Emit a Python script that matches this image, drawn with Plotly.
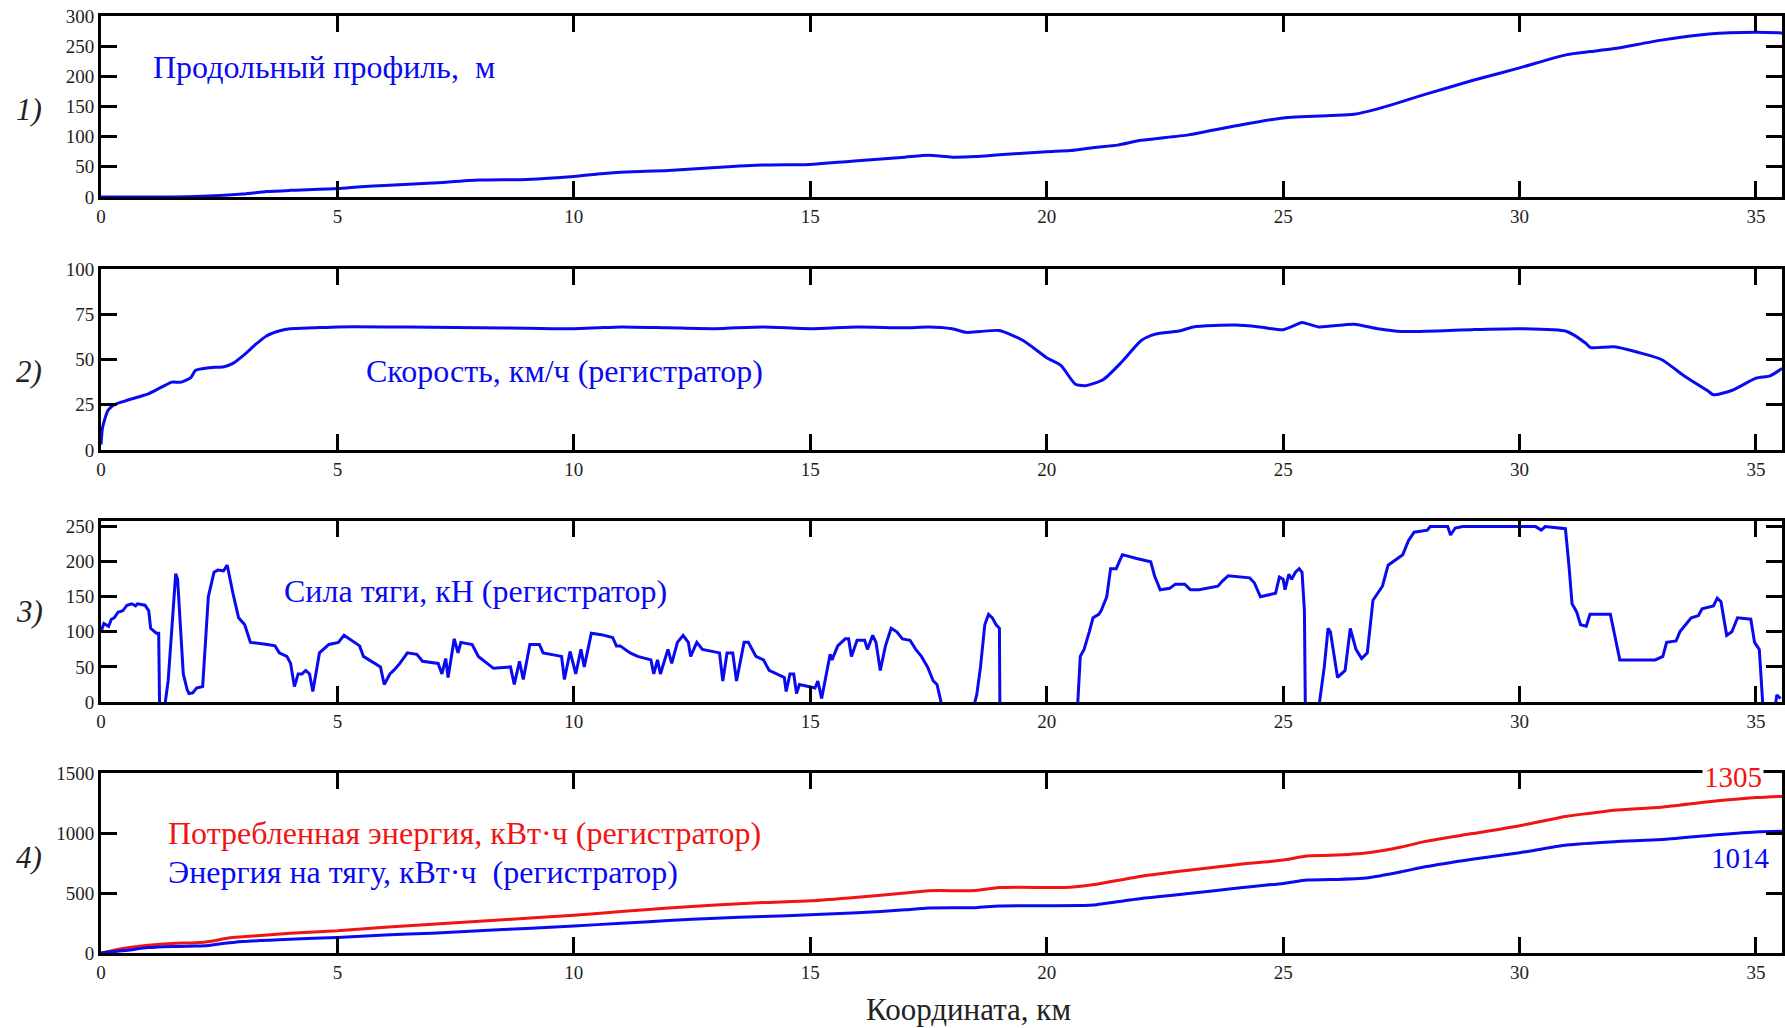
import plotly.graph_objects as go

# ---------------- data ----------------
km_ticks = [0, 5, 10, 15, 20, 25, 30, 35]

profile_km = [0, 1, 2, 3, 3.5, 4, 5, 5.5, 6, 7, 8, 9, 10, 10.5, 11, 12, 13, 14, 15, 15.5, 16, 17, 17.5, 18,
              18.5, 19, 20, 20.5, 21, 21.5, 22, 23, 24, 25, 26, 26.5, 27, 28, 29, 30, 31, 31.5, 32, 33, 34, 35, 35.55]
profile_m = [0, 0, 1, 5, 9, 11, 14, 17, 19, 23, 28, 29, 34, 38, 41, 44, 49, 53, 54, 57, 60, 66, 69, 66,
             67, 70, 75, 77, 82, 86, 94, 103, 118, 131, 135, 137, 146, 170, 193, 214, 236, 241, 246, 260, 270, 273, 272]

speed_km = [0, 0.03, 0.08, 0.15, 0.28, 0.5, 0.75, 1.0, 1.3, 1.5, 1.7, 1.9, 2.0, 2.3, 2.6, 2.8, 3.0, 3.3, 3.5, 3.8,
            4.0, 4.5, 5, 6, 7, 8, 9, 10, 10.5, 11, 12, 13, 14, 15, 16, 17, 17.5, 18, 18.3, 18.6, 19, 19.5, 20,
            20.3, 20.6, 20.8, 21.2, 21.6, 22, 22.3, 22.8, 23.1, 24, 24.5, 25, 25.3, 25.4, 25.75, 26.5, 27, 27.5,
            28.5, 29, 30, 31, 31.4, 31.5, 32, 32.5, 33, 33.5, 34, 34.1, 34.5, 35, 35.3, 35.55]
speed_kmh = [3, 12, 17, 22, 25, 27, 29, 31, 35, 37.5, 37.5, 40, 44, 45.5, 46, 48, 52, 59, 63, 66,
             67, 67.5, 68, 68, 67.8, 67.5, 67.3, 67, 67.5, 68, 67.5, 67, 68, 67, 68, 67.5, 68, 67, 65, 65.5, 66, 60.5, 51,
             46.7, 36.5, 35.5, 39, 49, 60.5, 64, 65.7, 68, 69, 68, 66.5, 69.5, 70.5, 68, 69.5, 67, 65.5,
             66, 66.5, 67, 65.5, 59, 56.6, 57, 54, 50, 40.6, 32.3, 30.5, 33, 39.7, 41, 45]

force_points = [
    (0, 100), (0.06, 112), (0.16, 108), (0.22, 118), (0.28, 120), (0.36, 128), (0.46, 130), (0.55, 138),
    (0.65, 140), (0.73, 137), (0.77, 140), (0.93, 138), (1.01, 130), (1.05, 105), (1.17, 98), (1.22, 98),
    (1.24, -10), (1.34, -10), (1.42, 30), (1.54, 150), (1.58, 183), (1.62, 175), (1.70, 80), (1.74, 40),
    (1.82, 18), (1.86, 12), (1.94, 13), (2.02, 20), (2.15, 22), (2.27, 150), (2.39, 185), (2.47, 188),
    (2.59, 187), (2.67, 195), (2.79, 155), (2.91, 120), (3.04, 110), (3.16, 85), (3.52, 82), (3.68, 80),
    (3.77, 70), (3.93, 65), (4.01, 55), (4.09, 22), (4.17, 40), (4.25, 40), (4.33, 45), (4.41, 40),
    (4.48, 15), (4.62, 70), (4.82, 82), (5.02, 85), (5.14, 95), (5.3, 88), (5.47, 80), (5.55, 65),
    (5.71, 58), (5.91, 50), (5.99, 25), (6.11, 40), (6.19, 45), (6.32, 55), (6.48, 70), (6.68, 68),
    (6.80, 58), (7.13, 55), (7.21, 40), (7.29, 62), (7.34, 35), (7.47, 90), (7.55, 70), (7.61, 85),
    (7.85, 82), (7.98, 65), (8.30, 48), (8.66, 50), (8.74, 25), (8.85, 58), (8.93, 32), (9.07, 82),
    (9.27, 82), (9.35, 70), (9.74, 65), (9.80, 32), (9.92, 72), (10.04, 40), (10.15, 75), (10.22, 50),
    (10.37, 98), (10.58, 96), (10.82, 92), (10.9, 80), (10.98, 80), (11.19, 70), (11.35, 65), (11.63, 60),
    (11.69, 40), (11.77, 60), (11.83, 40), (11.99, 75), (12.07, 55), (12.19, 85), (12.31, 95), (12.42, 85),
    (12.47, 65), (12.6, 85), (12.72, 75), (13.08, 70), (13.15, 30), (13.24, 70), (13.36, 70), (13.44, 30),
    (13.6, 85), (13.69, 85), (13.85, 65), (14.01, 60), (14.13, 45), (14.45, 35), (14.49, 15), (14.57, 40),
    (14.65, 40), (14.71, 12), (14.77, 25), (14.97, 22), (15.1, 20), (15.16, 30), (15.24, 5), (15.34, 40),
    (15.42, 68), (15.46, 60), (15.58, 80), (15.74, 90), (15.81, 90), (15.87, 65), (15.99, 88), (16.15, 88),
    (16.21, 75), (16.32, 95), (16.39, 85), (16.48, 45), (16.59, 80), (16.71, 105), (16.83, 100), (16.95, 90),
    (17.11, 88), (17.23, 75), (17.35, 65), (17.48, 50), (17.6, 30), (17.68, 25), (17.8, -10), (18.44, -10),
    (18.52, 10), (18.6, 50), (18.69, 110), (18.77, 125), (18.85, 120), (18.93, 110), (19.0, 105), (19.01, -10),
    (20.65, -10), (20.71, 65), (20.79, 75), (20.9, 100), (20.98, 120), (21.1, 125), (21.15, 130), (21.27, 150),
    (21.35, 190), (21.47, 190), (21.6, 210), (21.88, 205), (22.2, 200), (22.28, 180), (22.4, 160), (22.6, 162),
    (22.72, 168), (22.92, 168), (23.04, 160), (23.22, 160), (23.62, 165), (23.71, 172), (23.84, 180),
    (24.29, 177), (24.39, 170), (24.52, 150), (24.84, 155), (24.92, 178), (25.0, 175), (25.04, 160),
    (25.12, 182), (25.18, 175), (25.26, 185), (25.34, 190), (25.4, 185), (25.45, 130), (25.47, -10), (25.75, -10),
    (25.87, 50), (25.95, 105), (26.0, 100), (26.15, 35), (26.31, 45), (26.42, 105), (26.54, 75), (26.66, 62),
    (26.78, 70), (26.9, 145), (27.1, 165), (27.22, 195), (27.33, 200), (27.53, 210), (27.65, 230),
    (27.77, 242), (28.05, 245), (28.11, 250), (28.48, 250), (28.54, 238), (28.64, 248), (28.8, 250),
    (30.34, 250), (30.46, 245), (30.54, 250), (30.97, 247), (31.05, 190), (31.11, 140), (31.21, 128),
    (31.29, 110), (31.41, 108), (31.49, 125), (31.92, 125), (32.0, 100), (32.12, 60), (32.87, 60),
    (33.03, 65), (33.11, 85), (33.31, 87), (33.39, 100), (33.51, 110), (33.63, 120), (33.78, 123),
    (33.86, 133), (34.1, 137), (34.18, 148), (34.26, 143), (34.38, 95), (34.49, 100), (34.61, 120),
    (34.89, 118), (34.97, 85), (35.07, 75), (35.15, -10), (35.4, -10), (35.44, 10), (35.52, 5),
]
force_km = [p[0] for p in force_points]
force_kn = [p[1] for p in force_points]

consumed_km = [0, 0.5, 1, 1.5, 2, 2.3, 2.7, 3, 4, 5, 6, 7, 8, 9, 10, 11, 12, 13, 14, 15, 16, 17, 17.5, 18.5,
               19, 20.5, 21, 22, 23, 24, 25, 25.5, 26, 26.8, 27.5, 28, 29, 30, 31, 31.5, 32, 33, 34, 35, 35.55]
energy_consumed = [0, 40, 65, 80, 85, 95, 125, 135, 165, 185, 215, 240, 265, 290, 315, 345, 375, 400, 420, 435,
                   465, 500, 519, 521, 545, 548, 570, 640, 690, 735, 775, 808, 814, 836, 883, 930, 995, 1061,
                   1140, 1165, 1190, 1215, 1260, 1295, 1305]
traction_km = [0, 0.5, 1, 1.5, 2, 2.2, 2.5, 3, 4, 5, 6, 7, 8, 9, 10, 11, 12, 13, 14, 15, 16, 17, 17.5, 18.5,
               19, 20.8, 21, 22, 23, 24, 25, 25.5, 26, 26.8, 27.5, 28, 29, 30, 31, 32, 33, 34, 35, 35.55]
energy_traction = [0, 20, 45, 55, 58, 60, 75, 95, 115, 130, 150, 165, 185, 205, 225, 248, 270, 290, 305, 318,
                   335, 360, 375, 378, 392, 395, 400, 455, 495, 540, 580, 608, 612, 628, 677, 718, 781, 836,
                   900, 928, 945, 980, 1008, 1014]

# ---------------- styling ----------------
W, H = 1785, 1028
BLUE = "#0a0af0"
RED = "#f01414"
FONT = "Liberation Serif"


def px(x):
    return x / W


def py(y):
    return 1 - y / H


x_dom = [px(101), px(1782)]
panels = [(16, 197, [0, 300], list(range(0, 301, 50))),
          (269, 450, [0, 100], list(range(0, 101, 25))),
          (521, 702, [0, 258], list(range(0, 251, 50))),
          (773, 953, [0, 1500], list(range(0, 1501, 500)))]

fig = go.Figure()

series = [
    (1, profile_km, profile_m, BLUE, "spline"),
    (2, speed_km, speed_kmh, BLUE, "spline"),
    (3, force_km, force_kn, BLUE, "linear"),
    (4, consumed_km, energy_consumed, RED, "spline"),
    (4, traction_km, energy_traction, BLUE, "spline"),
]
for idx, xs, ys, col, shape in series:
    suffix = "" if idx == 1 else str(idx)
    line = dict(color=col, width=3, shape=shape)
    if shape == "spline":
        line["smoothing"] = 0.6
    fig.add_trace(go.Scatter(x=xs, y=ys, mode="lines", xaxis="x" + suffix, yaxis="y" + suffix,
                             line=line, showlegend=False, hoverinfo="skip"))

axis_common = dict(showline=True, linecolor="black", linewidth=2.7, mirror="ticks",
                   ticks="inside", ticklen=16, tickwidth=2.7, tickcolor="black",
                   showgrid=False, zeroline=False,
                   tickfont=dict(family=FONT, size=19, color="#222222"))

layout = dict(width=W, height=H, margin=dict(l=0, r=0, t=0, b=0, autoexpand=False),
              paper_bgcolor="white", plot_bgcolor="white", showlegend=False)
for i, (top, bot, yr, yt) in enumerate(panels, start=1):
    suffix = "" if i == 1 else str(i)
    layout["xaxis" + suffix] = dict(domain=x_dom, range=[0, 35.55], tickvals=km_ticks,
                                    anchor="y" + suffix, **axis_common)
    layout["yaxis" + suffix] = dict(domain=[py(bot), py(top)], range=yr, tickvals=yt,
                                    anchor="x" + suffix, **axis_common)
fig.update_layout(**layout)

annotations = [
    ("Продольный профиль,\u00a0 м", 151, 67, BLUE, "left", 32),
    ("Скорость, км/ч (регистратор)", 364, 371, BLUE, "left", 32),
    ("Сила тяги, кН (регистратор)", 282, 591, BLUE, "left", 32),
    ("Потребленная энергия, кВт·ч (регистратор)", 166, 833, RED, "left", 32),
    ("Энергия на тягу, кВт·ч\u00a0 (регистратор)", 166, 872, BLUE, "left", 32),
    ("<i>1)</i>", 29, 110, "#222222", "center", 31),
    ("<i>2)</i>", 29, 371, "#222222", "center", 31),
    ("<i>3)</i>", 29, 611, "#222222", "center", 31),
    ("<i>4)</i>", 29, 857, "#222222", "center", 31),
    ("Координата, км", 969, 1009, "#222222", "center", 31),
]
for text, x, y, col, xa, sz in annotations:
    fig.add_annotation(text=text, x=px(x), y=py(y), xref="paper", yref="paper", showarrow=False,
                       xanchor=xa, yanchor="middle", font=dict(family=FONT, size=sz, color=col))

fig.add_annotation(text="1305", x=px(1733), y=py(777), xref="paper", yref="paper", showarrow=False,
                   xanchor="center", yanchor="middle", bgcolor="white", borderpad=1,
                   font=dict(family=FONT, size=29, color=RED))
fig.add_annotation(text="1014", x=px(1740), y=py(858), xref="paper", yref="paper", showarrow=False,
                   xanchor="center", yanchor="middle",
                   font=dict(family=FONT, size=29, color=BLUE))

fig.write_html("out.html",
               post_script="document.documentElement.style.margin='0';document.body.style.margin='0';"
                           "document.body.style.overflow='hidden';")
